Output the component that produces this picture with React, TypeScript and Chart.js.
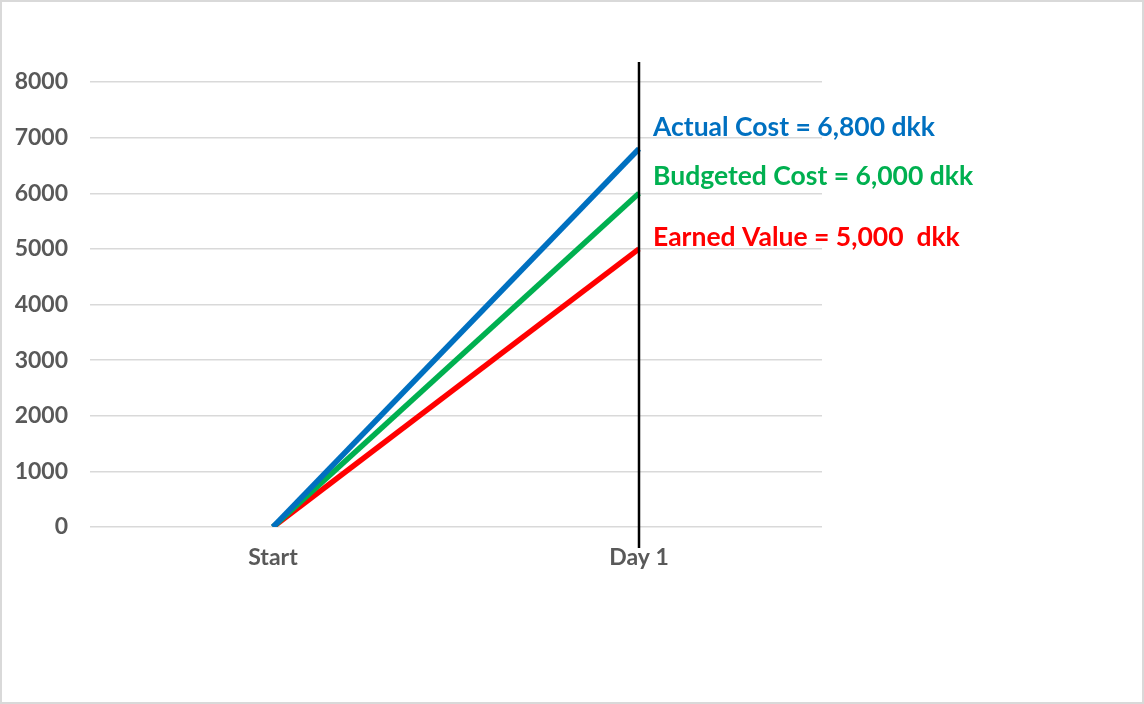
import React, { useEffect, useRef } from "react";
import { Chart, registerables } from "chart.js";

Chart.register(...registerables);

const categories = ["Start", "Day 1"];
const actualCost = [0, 6800];
const budgetedCost = [0, 6000];
const earnedValue = [0, 5000];
const yTicks = [0, 1000, 2000, 3000, 4000, 5000, 6000, 7000, 8000];
const annotationTexts = [
  "Actual Cost = 6,800 dkk",
  "Budgeted Cost = 6,000 dkk",
  "Earned Value = 5,000  dkk",
];

const FONT = "Lato, 'Open Sans', sans-serif";

const annotationPlugin = {
  id: "dayLine",
  afterDatasetsDraw(chart: any) {
    const { ctx, chartArea, scales } = chart;
    const x = scales.x.getPixelForValue(1);
    ctx.save();
    ctx.strokeStyle = "#000000";
    ctx.lineWidth = 2.5;
    ctx.beginPath();
    ctx.moveTo(x, chartArea.top - 20);
    ctx.lineTo(x, chartArea.bottom + 21);
    ctx.stroke();

    const specs = [
      { text: annotationTexts[0], value: actualCost[1], color: "#0070C0", dy: -21 },
      { text: annotationTexts[1], value: budgetedCost[1], color: "#00B050", dy: -17 },
      { text: annotationTexts[2], value: earnedValue[1], color: "#FF0000", dy: -11 },
    ];
    ctx.font = `bold 26.5px ${FONT}`;
    ctx.textAlign = "left";
    ctx.textBaseline = "middle";
    specs.forEach((s) => {
      ctx.fillStyle = s.color;
      ctx.fillText(s.text, x + 14, scales.y.getPixelForValue(s.value) + s.dy);
    });
    ctx.restore();
  },
};

export default function App() {
  const ref = useRef<HTMLCanvasElement | null>(null);
  useEffect(() => {
    if (!ref.current) return;
    const chart = new Chart(ref.current, {
      type: "line",
      data: {
        labels: categories,
        datasets: [
          { label: "Actual Cost", data: actualCost, borderColor: "#0070C0", borderWidth: 5.5, pointRadius: 0 },
          { label: "Budgeted Cost", data: budgetedCost, borderColor: "#00B050", borderWidth: 5.5, pointRadius: 0 },
          { label: "Earned Value", data: earnedValue, borderColor: "#FF0000", borderWidth: 5.5, pointRadius: 0 },
        ],
      },
      options: {
        animation: false,
        responsive: false,
        layout: { padding: { left: 0, right: 322, top: 82, bottom: 0 } },
        plugins: { legend: { display: false }, tooltip: { enabled: false } },
        scales: {
          x: {
            offset: true,
            grid: { display: false, drawTicks: false },
            border: { display: false },
            ticks: { color: "#595959", font: { family: FONT, size: 23, weight: "bold" }, padding: 17 },
            afterFit: (s: any) => { s.height = 177; },
          },
          y: {
            min: 0,
            max: 8000,
            afterBuildTicks: (s: any) => { s.ticks = yTicks.map((v) => ({ value: v })); },
            grid: { color: "#d9d9d9", lineWidth: 1.5, drawTicks: false },
            border: { display: false },
            ticks: {
              color: "#595959",
              font: { family: FONT, size: 23, weight: "bold" },
              padding: 22,
              callback: (v: any) => String(v),
            },
            afterFit: (s: any) => { s.width = 90; },
          },
        },
      },
      plugins: [annotationPlugin],
    });
    return () => chart.destroy();
  }, []);
  return (
    <div style={{ position: "fixed", left: 0, top: 0, width: 1144, height: 704, background: "#fff" }}>
      <canvas ref={ref} width={1144} height={704} style={{ position: "absolute", left: 0, top: 0 }} />
      <div style={{ position: "absolute", left: 0, top: 0, width: 1144, height: 704, border: "2px solid #d9d9d9", boxSizing: "border-box", pointerEvents: "none" }} />
    </div>
  );
}
